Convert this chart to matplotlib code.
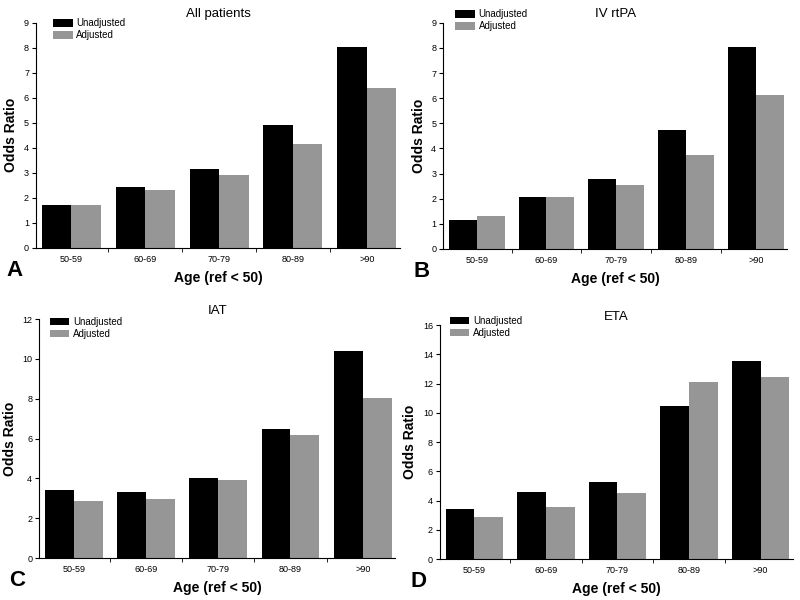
import matplotlib.pyplot as plt
import numpy as np

plt.rcParams['font.family'] = ['Liberation Sans', 'DejaVu Sans']

age_groups = ["50-59", "60-69", "70-79", "80-89", ">90"]

# odds ratios
all_unadj = [1.70, 2.42, 3.15, 4.90, 8.02]
all_adj = [1.73, 2.33, 2.92, 4.15, 6.40]

ivtpa_unadj = [1.15, 2.07, 2.80, 4.73, 8.02]
ivtpa_adj = [1.30, 2.07, 2.55, 3.75, 6.13]

iat_unadj = [3.42, 3.30, 4.00, 6.50, 10.40]
iat_adj = [2.85, 2.95, 3.92, 6.20, 8.02]

eta_unadj = [3.45, 4.62, 5.25, 10.45, 13.55]
eta_adj = [2.87, 3.57, 4.50, 12.10, 12.45]

panels = [
    ("All patients", "A", all_unadj, all_adj, 9, 1, [0.045, 0.587, 0.455, 0.375], (0.047, 1.02)),
    ("IV rtPA", "B", ivtpa_unadj, ivtpa_adj, 9, 1, [0.554, 0.585, 0.430, 0.377], (0.035, 1.06)),
    ("IAT", "C", iat_unadj, iat_adj, 12, 2, [0.049, 0.070, 0.445, 0.398], (0.030, 1.01)),
    ("ETA", "D", eta_unadj, eta_adj, 16, 2, [0.550, 0.068, 0.441, 0.390], (0.028, 1.04)),
]

fig = plt.figure(figsize=(8, 6), dpi=100)
x = np.arange(len(age_groups))
w = 0.4

for title, letter, unadj, adj, ymax, ystep, pos, leg_at in panels:
    ax = fig.add_axes(pos)
    ax.bar(x - w / 2, unadj, width=w, color="black", label="Unadjusted")
    ax.bar(x + w / 2, adj, width=w, color="#969696", label="Adjusted")

    ax.set_xlim(-0.48, 4.45)
    ax.set_ylim(0, ymax)
    ax.set_yticks(np.arange(0, ymax + 0.1, ystep))
    ax.set_xticks(x)
    ax.set_xticklabels(age_groups)
    ax.set_xticks(x[:-1] + 0.5, minor=True)
    ax.tick_params(axis="x", which="major", length=0, labelsize=6.5, pad=5)
    ax.tick_params(axis="x", which="minor", length=3, direction="out")
    ax.tick_params(axis="y", length=3, labelsize=6.5, pad=2)

    for s in ["top", "right"]:
        ax.spines[s].set_visible(False)

    ax.set_title(title, fontsize=9.5, pad=4)
    ax.set_ylabel("Odds Ratio", fontsize=10, fontweight="bold", labelpad=4)
    ax.set_xlabel("Age (ref < 50)", fontsize=10, fontweight="bold", labelpad=5)
    # panel letter, placed in figure pixels relative to the axes corner
    fig.text(pos[0] - 0.037, pos[1] - 0.037, letter, fontsize=16,
             fontweight="bold", va="center", ha="left")

    ax.legend(loc="upper left", bbox_to_anchor=leg_at, frameon=False,
              fontsize=7, handlelength=2.0, handleheight=0.8,
              handletextpad=0.4, labelspacing=0.2, borderpad=0,
              borderaxespad=0)

fig.savefig("out.png", dpi=100)
